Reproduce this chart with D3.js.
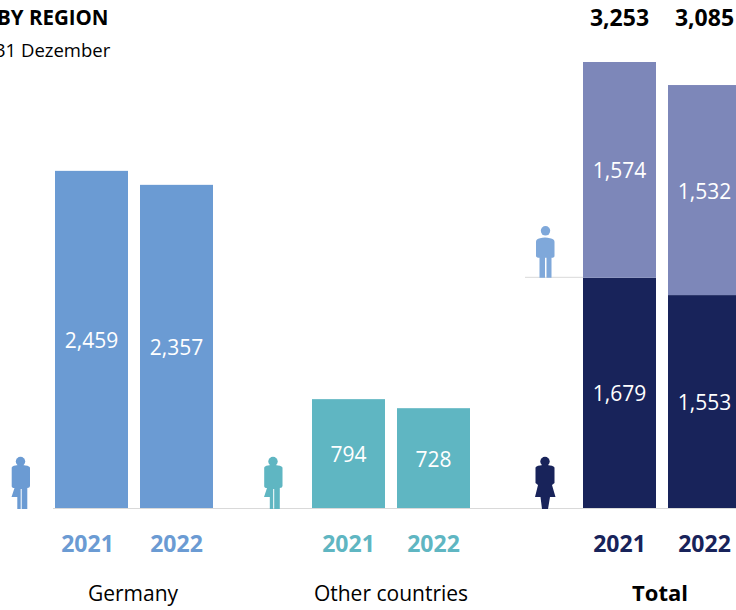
<!DOCTYPE html>
<html>
<head>
<meta charset="utf-8">
<script src="https://cdn.jsdelivr.net/npm/d3@7"></script>
<style>
	html, body { margin: 0; padding: 0; background: #fff; overflow: hidden; }
	svg { display: block; font-family: 'Open Sans', sans-serif; }
</style>
</head>
<body>
<svg id="chart" width="736" height="610"></svg>
<script>
const regions = ['Germany', 'Other countries', 'Total'];
const years = ['2021', '2022'];
const germany = [2459, 2357];
const otherCountries = [794, 728];
const totalWomen = [1679, 1553];
const totalMen = [1574, 1532];
const totals = [3253, 3085];
const titleText = 'BY REGION';
const subtitleText = '31 Dezember';

const blue = '#6b9bd3', teal = '#5fb6c2', navy = '#18235a', lavender = '#7d87b9', menBlue = '#7fa8da', grey = '#d9d9d9';

const svg = d3.select('#chart');
const fmt = d3.format(',');

const y = d3.scaleLinear().domain([0, 3253]).range([508, 62]);
//group left edges are not evenly spaced in the original
const groupX = d3.scaleOrdinal().domain(regions).range([55, 312, 583]);
const yearX = d3.scaleBand().domain(years).range([0, 158]).paddingInner(12 / 85);
const barX = (region, year) => groupX(region) + yearX(year);
const barCenter = (region, year) => barX(region, year) + yearX.bandwidth() / 2;

//flat list of segments, built from the arrays above
const segments = [];
years.forEach((year, i) => {
	segments.push({region: 'Germany', year, from: 0, value: germany[i], color: blue});
	segments.push({region: 'Other countries', year, from: 0, value: otherCountries[i], color: teal});
	segments.push({region: 'Total', year, from: 0, value: totalWomen[i], color: navy});
	segments.push({region: 'Total', year, from: totalWomen[i], value: totalMen[i], color: lavender});
});

//bars
svg.append('g')
	.selectAll('rect')
	.data(segments)
	.enter()
	.append('rect')
	.attr('x', d => barX(d.region, d.year))
	.attr('width', yearX.bandwidth())
	.attr('y', d => y(d.from + d.value))
	.attr('height', d => y(d.from) - y(d.from + d.value))
	.attr('fill', d => d.color);

//baseline + marker line for the men/women split
svg.append('line')
	.attr('x1', 53).attr('x2', 736)
	.attr('y1', y(0) + 0.5).attr('y2', y(0) + 0.5)
	.attr('stroke', grey).attr('stroke-width', 1);
svg.append('line')
	.attr('x1', 525).attr('x2', 583)
	.attr('y1', y(totalWomen[0]) - 0.5).attr('y2', y(totalWomen[0]) - 0.5)
	.attr('stroke', grey).attr('stroke-width', 1);

//values inside the bars
svg.append('g')
	.selectAll('text')
	.data(segments)
	.enter()
	.append('text')
	.attr('x', d => barCenter(d.region, d.year))
	.attr('y', d => (y(d.from) + y(d.from + d.value)) / 2 + 8.5)
	.attr('text-anchor', 'middle')
	.attr('font-size', 21)
	.attr('fill', '#fff')
	.text(d => fmt(d.value));

//year labels
const yearColors = d3.scaleOrdinal().domain(regions).range([blue, teal, navy]);
regions.forEach(region => {
	svg.append('g')
		.selectAll('text')
		.data(years)
		.enter()
		.append('text')
		//the Germany 2021 label sits a little left of its bar in the original
		.attr('x', d => barCenter(region, d) - (region === 'Germany' && d === '2021' ? 4 : 0))
		.attr('y', 551.5)
		.attr('text-anchor', 'middle')
		.attr('font-size', 23)
		.attr('font-weight', 700)
		.attr('fill', yearColors(region))
		.text(d => d);
});

//region labels
const regionLabelX = d3.scaleOrdinal().domain(regions).range([133, 391, 660]);
svg.append('g')
	.selectAll('text')
	.data(regions)
	.enter()
	.append('text')
	.attr('x', d => regionLabelX(d))
	.attr('y', 601)
	.attr('text-anchor', 'middle')
	.attr('font-size', d => (d === 'Total' ? 22 : 21))
	.attr('font-weight', d => (d === 'Total' ? 700 : 400))
	.attr('fill', '#000')
	.text(d => d);

//totals on top
svg.append('g')
	.selectAll('text')
	.data(totals)
	.enter()
	.append('text')
	.attr('x', (d, i) => barCenter('Total', years[i]))
	.attr('y', 26)
	.attr('text-anchor', 'middle')
	.attr('font-size', 23)
	.attr('font-weight', 700)
	.attr('fill', '#000')
	.text(d => fmt(d));

//title, cut off at the left edge like the original
svg.append('text').attr('x', -3).attr('y', 25)
	.attr('font-size', 20.5).attr('font-weight', 700).text(titleText);
svg.append('text').attr('x', -5).attr('y', 57)
	.attr('font-size', 18.5).text(subtitleText);

//person icons, origin at the feet, centered
const iconPaths = {
	mixed: 'M-8.8,-41 Q-8.8,-43 -5,-43.5 Q0,-45 5,-43.5 Q9.5,-43 9.5,-41 V-23 Q9.5,-21 6.8,-21 V0 H1.2 V-20 H0.2 V0 H-3.2 V-12 H-9 L-6,-21 Q-8.8,-21 -8.8,-23 Z',
	man: 'M-9,-36 Q-9,-39 -5,-39.5 Q0,-41 5,-39.5 Q9.5,-39 9.5,-36 V-22 Q9.5,-20 6.5,-20 V0 H1.5 V-20 H0 V0 H-5.5 V-20 Q-9,-20 -9,-22 Z',
	woman: 'M-9.5,-41 Q-9.5,-43 -5,-43.5 Q0,-45 5,-43.5 Q9.5,-43 9.5,-41 V-26 L7,-24 L10.5,-12 H5 L3,0 H-3 L-4.5,-12 H-10 L-7,-24 L-9.5,-26 Z'
};
const icons = [
	{type: 'mixed', cx: 20.5, value: 0, color: blue},
	{type: 'mixed', cx: 273, value: 0, color: teal},
	{type: 'woman', cx: 545, value: 0, color: navy},
	{type: 'man', cx: 545, value: totalWomen[0], color: menBlue}
];
const iconG = svg.append('g')
	.selectAll('g')
	.data(icons)
	.enter()
	.append('g')
	.attr('transform', d => `translate(${d.cx},${y(d.value) + (d.value ? 0 : 1)})`)
	.attr('fill', d => d.color);
iconG.append('path').attr('d', d => iconPaths[d.type]);
iconG.append('circle')
	.attr('cx', d => (d.type === 'man' ? 0.5 : 0))
	.attr('cy', d => (d.type === 'man' ? -47 : -47.5))
	.attr('r', 4.7);
</script>
</body>
</html>
